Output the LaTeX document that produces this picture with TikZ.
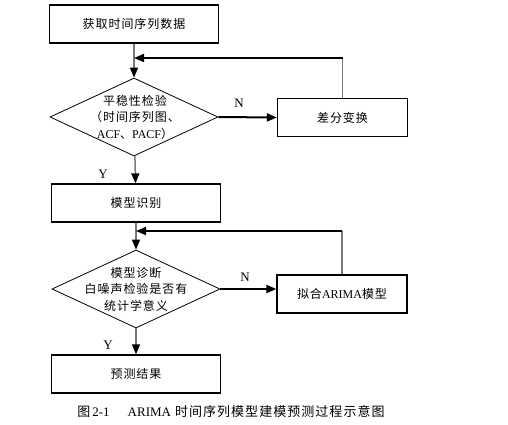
\documentclass[tikz,border=0pt]{standalone}
\usepackage{fontspec}
\setmainfont{Liberation Serif}
\newfontfamily\cjk[LetterSpace=8]{Noto Sans CJK SC}
\usetikzlibrary{shapes.geometric,arrows.meta}
\definecolor{linegray}{RGB}{120,120,120}
\tikzset{
  stepbox/.style={draw=black,line width=1.3pt,rectangle,minimum height=38pt,inner sep=0pt,font=\fontsize{12}{16.5}\selectfont},
  checkbox/.style={draw=black,line width=0.8pt,diamond,minimum width=168pt,minimum height=78pt,inner sep=0pt},
  checktext/.style={align=center,inner sep=0pt,font=\fontsize{12}{16.5}\selectfont},
  flow/.style={draw=linegray,line width=1.5pt,-{Triangle[length=10pt,width=8pt,color=black]}},
  nflow/.style={draw=black,line width=2pt,-{Triangle[length=10pt,width=8pt]}},
  backline/.style={draw=linegray,line width=1.2pt},
  backflow/.style={draw=black,line width=1.8pt,-{Triangle[length=10pt,width=8pt]}},
  yn/.style={font=\fontsize{13}{13}\selectfont,inner sep=0pt}
}
\begin{document}
\begin{tikzpicture}[x=1pt,y=-1pt]
\useasboundingbox (0,0) rectangle (508,424);
\node[stepbox,minimum width=169pt] (get) at (134,24) {\cjk 获取时间序列数据};
\node[checkbox] (stat) at (134,117) {};
\node[checktext] (statlbl) at (135,117) {\cjk 平稳性检验\\{\cjk （时间序列图、}\\ACF{\cjk 、}PACF{\cjk ）}};
\node[stepbox,minimum width=130pt] (diff) at (342.5,117.5) {\cjk 差分变换};
\node[stepbox,minimum width=169pt] (ident) at (136,203) {\cjk 模型识别};
\node[checkbox] (diag) at (136,289) {};
\node[checktext] (diaglbl) at (136,289) {\cjk 模型诊断\\{\cjk 白噪声检验是否有}\\{\cjk 统计学意义}};
\node[stepbox,minimum width=130pt] (fit) at (342,294) {{\cjk 拟合}ARIMA{\cjk 模型}};
\node[stepbox,minimum width=169pt] (pred) at (136,374) {\cjk 预测结果};
\coordinate (back1) at (134,58);
\coordinate (back2) at (136,231);
\node[yn] (n1) at (239,103) {N};
\node[yn] (y1) at (103,174) {Y};
\node[yn] (n2) at (245,277) {N};
\node[yn] (y2) at (108,345) {Y};
\draw[flow] (get) -- (stat);
\draw[nflow] (stat.east) -- (diff.west);
\draw[backline] (diff.north) -- (diff.north |- back1);
\draw[backflow] (diff.north |- back1) -- (back1);
\draw[flow] (stat) -- (ident);
\draw[flow] (ident) -- (diag);
\draw[nflow] (diag.east) -- (diag.east -| fit.west);
\draw[backline] (fit.north) -- (fit.north |- back2);
\draw[backflow] (fit.north |- back2) -- (back2);
\draw[flow] (diag) -- (pred);
\node[font=\fontsize{13}{15}\selectfont,inner sep=0pt] (caption) at (231,412) {{\cjk 图}\hspace{2pt}2-1\hspace{18pt}ARIMA\hspace{4pt}{\cjk 时间序列模型建模预测过程示意图}};
\end{tikzpicture}
\end{document}
